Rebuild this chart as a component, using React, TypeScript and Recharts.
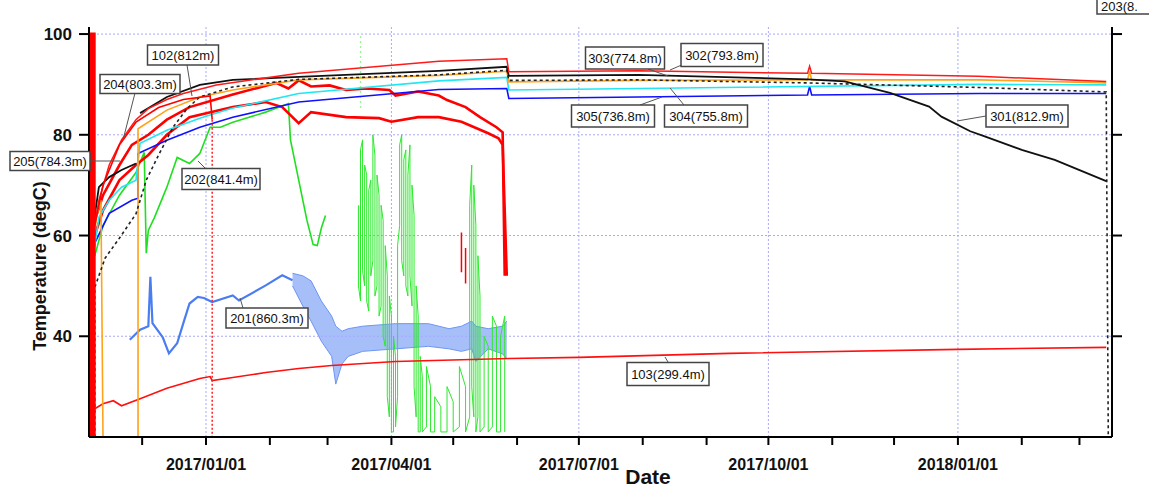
import React from "react";
import { ComposedChart, Line, Area, XAxis, YAxis, ReferenceLine } from "recharts";

// day offsets are counted from 2017-01-01
const ORIGIN = Date.UTC(2017, 0, 1);
const dayOf = (d: string) => (Date.parse(d + "T00:00:00Z") - ORIGIN) / 86400000;

type Row = [string, number | null];
type BandRow = [string, number, number];

const X_MIN = -56.8;
const X_MAX = 439.8;
const Y_MIN = 20;
const Y_MAX = 101.4;

const monthTicks = [
  "2016-12-01", "2017-01-01", "2017-02-01", "2017-03-01", "2017-04-01", "2017-05-01",
  "2017-06-01", "2017-07-01", "2017-08-01", "2017-09-01", "2017-10-01", "2017-11-01",
  "2017-12-01", "2018-01-01", "2018-02-01", "2018-03-01",
];
const quarterTicks = ["2017-01-01", "2017-04-01", "2017-07-01", "2017-10-01", "2018-01-01"];
const tempTicks = [40, 60, 80, 100];

// 302(793.8m) red, top
const red302: Row[] = [
  ["2016-11-07", 60], ["2016-11-10", 67], ["2016-11-15", 74], ["2016-11-21", 79],
  ["2016-11-28", 83], ["2016-12-04", 85.2], ["2016-12-13", 87], ["2016-12-21", 88.2],
  ["2017-01-06", 89.9], ["2017-02-15", 92.2], ["2017-04-24", 94.6], ["2017-05-27", 95.1],
  ["2017-05-28", 92.5], ["2017-07-30", 92.7], ["2017-10-20", 92.2], ["2017-10-21", 93.6],
  ["2017-10-22", 92.2], ["2018-01-11", 91.6], ["2018-03-14", 90.6],
];

// 301(812.9m) black
const black301: Row[] = [
  ["2016-11-08", 64], ["2016-11-10", 69.6], ["2016-11-15", 71.6], ["2016-11-21", 73],
  ["2016-11-28", 74.3], ["2016-11-29", null], ["2016-11-30", 84.3], ["2016-12-13", 87.5],
  ["2016-12-29", 89.9], ["2017-01-14", 90.9], ["2017-02-15", 91.5], ["2017-04-24", 92.7],
  ["2017-05-27", 93.5], ["2017-05-28", 91.7], ["2017-07-30", 91.9], ["2017-10-20", 91.0],
  ["2017-11-07", 90.6], ["2017-11-29", 88.3], ["2017-12-18", 85.6], ["2017-12-24", 83.6],
  ["2018-01-07", 80.7], ["2018-01-14", 79.7], ["2018-02-01", 77.0], ["2018-02-17", 75.0],
  ["2018-03-14", 70.8],
];

// orange
const orange: Row[] = [
  ["2016-11-07", 58], ["2016-11-09", 64], ["2016-11-11", 67], ["2016-11-12", 20],
  ["2016-11-20", null], ["2016-11-29", 20], ["2016-11-29", 81.2], ["2016-12-13", 84.9],
  ["2016-12-29", 87.5], ["2017-01-14", 88.9], ["2017-02-15", 90.9], ["2017-04-24", 91.8],
  ["2017-05-27", 92.6], ["2017-05-28", 90.5], ["2017-07-30", 90.8], ["2017-10-20", 90.9],
  ["2017-10-21", 92.6], ["2017-10-22", 90.9], ["2018-01-11", 90.9], ["2018-03-14", 90.3],
];

// black dashed
const blackDash: Row[] = [
  ["2016-11-08", 20], ["2016-11-08", 49.7], ["2016-11-13", 55.5], ["2016-11-20", 59.5],
  ["2016-11-28", 64.3], ["2016-12-03", 71], ["2016-12-09", 76], ["2016-12-16", 81.5],
  ["2016-12-23", 85.3], ["2016-12-29", 87.5], ["2017-01-14", 89.5], ["2017-02-15", 91.0],
  ["2017-04-24", 91.9], ["2017-05-27", 92.8], ["2017-05-28", 90.8], ["2017-07-30", 90.9],
  ["2017-10-20", 90.3], ["2018-01-11", 89.4], ["2018-03-14", 88.5], ["2018-03-15", 20],
];

// 304(755.8m) cyan
const cyan304: Row[] = [
  ["2016-11-08", 58], ["2016-11-10", 63.6], ["2016-11-15", 67], ["2016-11-21", 69.6],
  ["2016-11-28", 71], ["2016-11-30", 78.3], ["2016-12-13", 80.9], ["2016-12-29", 83.3],
  ["2017-01-14", 85.3], ["2017-02-15", 88.2], ["2017-04-24", 90.7], ["2017-05-27", 91.4],
  ["2017-05-28", 88.9], ["2017-07-30", 89.2], ["2018-01-11", 90.0], ["2018-03-14", 89.9],
];

// 305(736.8m) blue
const blue305: Row[] = [
  ["2016-11-07", 55], ["2016-11-08", 58.5], ["2016-11-15", 64.4], ["2016-11-26", 67],
  ["2016-11-29", 67.4], ["2016-11-29", 76.3], ["2016-12-13", 78.9], ["2016-12-29", 81.5],
  ["2017-01-14", 83.5], ["2017-02-15", 86.5], ["2017-04-24", 89.0], ["2017-05-27", 89.2],
  ["2017-05-28", 87.2], ["2017-07-30", 87.5], ["2017-10-20", 87.9], ["2017-10-21", 89.6],
  ["2017-10-22", 87.9], ["2018-01-11", 88.2], ["2018-03-14", 88.2],
];

// 102(812m) red, stops early January
const red102: Row[] = [
  ["2016-11-08", 62], ["2016-11-12", 70], ["2016-11-20", 78], ["2016-11-28", 82.5],
  ["2016-12-09", 85.4], ["2016-12-21", 87], ["2017-01-03", 87.7], ["2017-01-04", 83],
];
const red102Tail: Row[] = [["2017-01-04", 83], ["2017-01-04", 20]];

// 204 / 205 noisy reds
const red204: Row[] = [
  ["2016-11-08", 63], ["2016-11-12", 68], ["2016-11-20", 74], ["2016-11-26", 78],
  ["2016-12-04", 80], ["2016-12-13", 83], ["2016-12-24", 85.5], ["2017-01-14", 88],
  ["2017-02-04", 90.3], ["2017-02-10", 89.2], ["2017-02-15", 90.8], ["2017-02-21", 89.6],
  ["2017-03-02", 89.8], ["2017-03-10", 88.9], ["2017-03-20", 89.2], ["2017-03-31", 88.9],
  ["2017-04-03", 87.8], ["2017-04-14", 88.6], ["2017-04-24", 87.8], ["2017-04-28", 86.9],
  ["2017-05-07", 85.5], ["2017-05-14", 83.5], ["2017-05-22", 81.5], ["2017-05-25", 80.5],
  ["2017-05-26", 52],
];
const red205: Row[] = [
  ["2016-11-08", 60], ["2016-11-12", 65], ["2016-11-20", 71], ["2016-11-28", 74],
  ["2016-12-04", 76], ["2016-12-13", 80], ["2016-12-24", 83.5], ["2017-01-14", 85.5],
  ["2017-01-30", 86.5], ["2017-02-07", 85.5], ["2017-02-15", 82.3], ["2017-02-21", 84.5],
  ["2017-03-10", 83.5], ["2017-03-26", 83.3], ["2017-04-01", 82.6], ["2017-04-14", 83.5],
  ["2017-04-24", 83.5], ["2017-05-05", 82.6], ["2017-05-18", 80.3], ["2017-05-23", 79.3],
  ["2017-05-25", 78], ["2017-05-27", 52],
];
const redBits: Row[] = [
  ["2017-05-05", 60.6], ["2017-05-05", 52.7], ["2017-05-06", null],
  ["2017-05-07", 57.5], ["2017-05-07", 50.5],
];
const redBar: Row[] = [["2016-11-07", 20], ["2016-11-07", 100.3]];

// 202(841.4m) green
const green202: Row[] = [
  ["2016-11-08", 56], ["2016-11-12", 62], ["2016-11-20", 68], ["2016-11-28", 72.5],
  ["2016-12-02", 76.5], ["2016-12-03", 56.5], ["2016-12-04", 61], ["2016-12-07", 63.6],
  ["2016-12-13", 69.6], ["2016-12-18", 75.5], ["2016-12-24", 74.3], ["2016-12-29", 76.3],
  ["2017-01-03", 81.5], ["2017-01-08", 81.5], ["2017-01-14", 82.5], ["2017-01-30", 84.5],
  ["2017-02-10", 86.2], ["2017-02-11", 79], ["2017-02-15", 71], ["2017-02-19", 63],
  ["2017-02-22", 58.2], ["2017-02-24", 58], ["2017-02-26", 61.5], ["2017-02-28", 64],
];
// 202 scattered readings, drawn as columns
const greenScatter: Row[] = [
  ["2017-03-16", 66], ["2017-03-16", 50], ["2017-03-17", 47], ["2017-03-17", 77],
  ["2017-03-18", 79], ["2017-03-18", 53], ["2017-03-19", 50], ["2017-03-19", 74],
  ["2017-03-20", 72], ["2017-03-20", 47], ["2017-03-21", 45], ["2017-03-21", 69],
  ["2017-03-22", 71], ["2017-03-22", 52], ["2017-03-23", 55], ["2017-03-23", 80],
  ["2017-03-24", 76], ["2017-03-24", 48], ["2017-03-25", 50], ["2017-03-25", 72],
  ["2017-03-26", 68], ["2017-03-26", 44], ["2017-03-27", 46], ["2017-03-27", 66],
  ["2017-03-28", 63], ["2017-03-28", 40], ["2017-03-29", 38], ["2017-03-29", 58],
  ["2017-03-30", 52], ["2017-03-30", 28], ["2017-03-31", 24], ["2017-03-31", 48],
  ["2017-04-01", 44], ["2017-04-01", 21], ["2017-04-02", 21], ["2017-04-02", 40],
  ["2017-04-03", 36], ["2017-04-03", 22], ["2017-04-04", 28], ["2017-04-04", 58],
  ["2017-04-05", 62], ["2017-04-05", 78], ["2017-04-06", 80], ["2017-04-06", 55],
  ["2017-04-07", 52], ["2017-04-07", 75], ["2017-04-08", 77], ["2017-04-08", 50],
  ["2017-04-09", 48], ["2017-04-09", 72], ["2017-04-10", 78], ["2017-04-10", 52],
  ["2017-04-11", 46], ["2017-04-11", 70], ["2017-04-12", 64], ["2017-04-12", 30],
  ["2017-04-13", 24], ["2017-04-13", 50], ["2017-04-14", 44], ["2017-04-14", 21],
  ["2017-04-15", 21], ["2017-04-15", 36], ["2017-04-16", 32], ["2017-04-16", 21],
  ["2017-04-18", 22], ["2017-04-18", 34], ["2017-04-20", 30], ["2017-04-20", 21],
  ["2017-04-22", 21], ["2017-04-22", 28], ["2017-04-25", 26], ["2017-04-25", 21],
  ["2017-04-28", 21], ["2017-04-28", 30], ["2017-05-01", 27], ["2017-05-01", 21],
  ["2017-05-04", 22], ["2017-05-04", 34], ["2017-05-07", 30], ["2017-05-07", 21],
  ["2017-05-09", 24], ["2017-05-09", 66], ["2017-05-10", 74], ["2017-05-10", 30],
  ["2017-05-11", 24], ["2017-05-11", 70], ["2017-05-12", 62], ["2017-05-12", 21],
  ["2017-05-13", 24], ["2017-05-13", 56], ["2017-05-14", 48], ["2017-05-14", 21],
  ["2017-05-16", 22], ["2017-05-16", 40], ["2017-05-18", 38], ["2017-05-18", 21],
  ["2017-05-20", 22], ["2017-05-20", 44], ["2017-05-22", 42], ["2017-05-22", 21],
  ["2017-05-24", 21], ["2017-05-24", 40], ["2017-05-26", 44], ["2017-05-26", 21],
];
const greenDots: Row[] = [["2017-03-17", 99.5], ["2017-03-17", 85]];

// 201(860.3m) cornflower blue
const blue201: Row[] = [
  ["2016-11-25", 39.3], ["2016-11-30", 41.3], ["2016-12-04", 42], ["2016-12-05", 51.8],
  ["2016-12-06", 42.6], ["2016-12-11", 39.8], ["2016-12-14", 36.6], ["2016-12-18", 38.6],
  ["2016-12-21", 42.6], ["2016-12-24", 46.5], ["2016-12-28", 47.8], ["2016-12-31", 47.6],
  ["2017-01-04", 46.8], ["2017-01-14", 48.1], ["2017-01-17", 47.1], ["2017-01-30", 50.1],
  ["2017-02-07", 52.1], ["2017-02-12", 51.1],
];
const blue201Band: BandRow[] = [
  ["2017-02-12", 50, 52.5], ["2017-02-17", 46, 52], ["2017-02-21", 43, 51],
  ["2017-02-26", 39, 47], ["2017-03-03", 36, 44], ["2017-03-05", 30.5, 42],
  ["2017-03-08", 34.5, 41], ["2017-03-11", 36, 41.5], ["2017-03-18", 37, 42],
  ["2017-04-03", 37.5, 42.5], ["2017-04-19", 38, 42.5], ["2017-04-29", 37.5, 41.5],
  ["2017-05-05", 37, 42], ["2017-05-10", 37.5, 43], ["2017-05-12", 35, 42],
  ["2017-05-18", 37.5, 41.5], ["2017-05-25", 36.5, 42], ["2017-05-27", 35.5, 43],
];

// 103(299.4m) red, shallow
const red103: Row[] = [
  ["2016-11-08", 25.6], ["2016-11-12", 26.6], ["2016-11-17", 27.2], ["2016-11-21", 26.2],
  ["2016-11-30", 27.6], ["2016-12-13", 29.7], ["2016-12-29", 31.6], ["2017-01-03", 32.0],
  ["2017-01-04", 31.2], ["2017-01-14", 31.8], ["2017-01-30", 32.8], ["2017-02-15", 33.6],
  ["2017-03-03", 34.2], ["2017-04-03", 35.0], ["2017-05-28", 35.6], ["2017-07-01", 35.8],
  ["2017-09-12", 36.6], ["2018-01-01", 37.4], ["2018-03-14", 37.8],
];

const pts = (rows: Row[]) => rows.map(([d, v]) => ({ x: dayOf(d), y: v }));
const band = (rows: BandRow[]) => rows.map(([d, lo, hi]) => ({ x: dayOf(d), range: [lo, hi] }));

const series = [
  { id: "green-scatter", rows: greenScatter, color: "#2ee82e", width: 1, dash: undefined },
  { id: "green-dots", rows: greenDots, color: "#2ee82e", width: 1.3, dash: "1 4" },
  { id: "201", rows: blue201, color: "#4b7df2", width: 2.2, dash: undefined },
  { id: "103", rows: red103, color: "#ff1010", width: 1.6, dash: undefined },
  { id: "202", rows: green202, color: "#1fe01f", width: 1.6, dash: undefined },
  { id: "205", rows: red205, color: "#ff0000", width: 2.6, dash: undefined },
  { id: "204", rows: red204, color: "#ff0000", width: 2.6, dash: undefined },
  { id: "bits", rows: redBits, color: "#ff0000", width: 1.5, dash: undefined },
  { id: "305", rows: blue305, color: "#1010ff", width: 1.6, dash: undefined },
  { id: "304", rows: cyan304, color: "#22e6f2", width: 1.6, dash: undefined },
  { id: "orange", rows: orange, color: "#ffa31a", width: 1.6, dash: undefined },
  { id: "dash", rows: blackDash, color: "#222", width: 1.6, dash: "3 3" },
  { id: "301", rows: black301, color: "#111", width: 1.8, dash: undefined },
  { id: "302", rows: red302, color: "#ff1a1a", width: 1.5, dash: undefined },
  { id: "102", rows: red102, color: "#ff0000", width: 1.6, dash: undefined },
  { id: "102-tail", rows: red102Tail, color: "#ff2020", width: 1.5, dash: "2 2" },
  { id: "bar", rows: redBar, color: "#ff0000", width: 6, dash: undefined },
];

const labels = [
  { text: "102(812m)", cx: 183, cy: 55, w: 71, h: 20, l: [187, 65, 192, 96] },
  { text: "204(803.3m)", cx: 140, cy: 84, w: 80, h: 19, l: [135, 93, 123, 140] },
  { text: "205(784.3m)", cx: 50, cy: 161, w: 80, h: 19, l: [90, 161, 120, 161] },
  { text: "202(841.4m)", cx: 221, cy: 179, w: 78, h: 21, l: [205, 168, 198, 161] },
  { text: "201(860.3m)", cx: 267, cy: 318, w: 82, h: 20, l: [243, 308, 240, 298] },
  { text: "103(299.4m)", cx: 668, cy: 374, w: 82, h: 23, l: [668, 362, 665, 357] },
  { text: "303(774.8m)", cx: 625, cy: 58, w: 79, h: 22, l: [648, 69, 668, 76] },
  { text: "302(793.8m)", cx: 722, cy: 55, w: 82, h: 23, l: [684, 64, 670, 70] },
  { text: "305(736.8m)", cx: 613, cy: 116, w: 83, h: 22, l: [640, 105, 662, 97] },
  { text: "304(755.8m)", cx: 706, cy: 116, w: 83, h: 22, l: [684, 105, 670, 88] },
  { text: "301(812.9m)", cx: 1027, cy: 116, w: 82, h: 22, l: [986, 116, 957, 121] },
];

const fmtTick = (v: number) => {
  const hit = quarterTicks.find((q) => Math.abs(dayOf(q) - v) < 0.01);
  return hit ? hit.replace(/-/g, "/") : "";
};

const FONT = "'Liberation Sans', Arial, sans-serif";
const TICK_FONT = "'Liberation Sans Narrow', 'Liberation Sans', Arial, sans-serif";
const axisStroke = { stroke: "#000", strokeWidth: 2 };

export default function App() {
  const tickDays = monthTicks.map(dayOf);
  return (
    <div
      style={{
        position: "absolute",
        left: 0,
        top: 0,
        width: 1149,
        height: 492,
        background: "#fff",
        fontFamily: FONT,
      }}
    >
      <ComposedChart width={1149} height={492} margin={{ top: 27, right: 0, bottom: 0, left: 0 }}>
        <XAxis
          xAxisId="b"
          type="number"
          dataKey="x"
          domain={[X_MIN, X_MAX]}
          allowDataOverflow
          ticks={tickDays}
          interval={0}
          tickFormatter={fmtTick}
          height={55}
          tickSize={8}
          tickMargin={14}
          axisLine={axisStroke}
          tickLine={axisStroke}
          tick={{ fill: "#111", fontSize: 16, fontWeight: 700, fontFamily: TICK_FONT }}
        />
        <XAxis
          xAxisId="t"
          orientation="top"
          type="number"
          dataKey="x"
          domain={[X_MIN, X_MAX]}
          allowDataOverflow
          ticks={tickDays}
          interval={0}
          tickFormatter={() => ""}
          height={0}
          tickSize={7}
          axisLine={axisStroke}
          tickLine={axisStroke}
        />
        <YAxis
          yAxisId="l"
          type="number"
          domain={[Y_MIN, Y_MAX]}
          allowDataOverflow
          ticks={tempTicks}
          interval={0}
          width={89}
          tickSize={10}
          tickMargin={7}
          axisLine={axisStroke}
          tickLine={axisStroke}
          tick={{ fill: "#111", fontSize: 17, fontWeight: 700, fontFamily: TICK_FONT }}
        />
        <YAxis
          yAxisId="r"
          orientation="right"
          type="number"
          domain={[Y_MIN, Y_MAX]}
          allowDataOverflow
          ticks={tempTicks}
          interval={0}
          width={37}
          tickSize={10}
          tickFormatter={() => ""}
          axisLine={axisStroke}
          tickLine={axisStroke}
        />

        {quarterTicks.map((q) => (
          <ReferenceLine
            key={q}
            xAxisId="b"
            yAxisId="l"
            x={dayOf(q)}
            stroke="#a8a8ff"
            strokeDasharray="2 2"
          />
        ))}
        {tempTicks.map((t) => (
          <ReferenceLine
            key={t}
            xAxisId="b"
            yAxisId="l"
            y={t}
            stroke="#a8a8ff"
            strokeDasharray="2 2"
          />
        ))}

        <Area
          xAxisId="b"
          yAxisId="l"
          data={band(blue201Band)}
          dataKey="range"
          type="linear"
          stroke="#6e95f4"
          strokeWidth={1}
          fill="#5d8af3"
          fillOpacity={0.55}
          isAnimationActive={false}
        />

        {series.map((s) => (
          <Line
            key={s.id}
            xAxisId="b"
            yAxisId="l"
            data={pts(s.rows)}
            dataKey="y"
            type="linear"
            stroke={s.color}
            strokeWidth={s.width}
            strokeDasharray={s.dash}
            dot={false}
            activeDot={false}
            connectNulls={false}
            isAnimationActive={false}
          />
        ))}
      </ComposedChart>

      <svg
        width={1149}
        height={492}
        style={{ position: "absolute", left: 0, top: 0, pointerEvents: "none" }}
      >
        <text
          x={40}
          y={266}
          transform="rotate(-90 40 266)"
          textAnchor="middle"
          dominantBaseline="central"
          fontSize={18}
          fontWeight={700}
          fontFamily={TICK_FONT}
          fill="#111"
        >
          Temperature (degC)
        </text>
        <text
          x={648}
          y={476}
          textAnchor="middle"
          dominantBaseline="central"
          fontSize={21}
          fontWeight={700}
          fontFamily={TICK_FONT}
          fill="#111"
        >
          Date
        </text>
        {labels.map((lb) => (
          <g key={lb.text}>
            <line x1={lb.l[0]} y1={lb.l[1]} x2={lb.l[2]} y2={lb.l[3]} stroke="#555" strokeWidth={1} />
            <rect
              x={lb.cx - lb.w / 2}
              y={lb.cy - lb.h / 2}
              width={lb.w}
              height={lb.h}
              fill="#fff"
              stroke="#444"
              strokeWidth={1.5}
            />
            <text
              x={lb.cx}
              y={lb.cy}
              textAnchor="middle"
              dominantBaseline="central"
              fontSize={13}
              fontFamily={FONT}
              fill="#111"
            >
              {lb.text}
            </text>
          </g>
        ))}
        <rect x={1097} y={-4} width={70} height={18} fill="#fff" stroke="#444" strokeWidth={1.5} />
        <text x={1101} y={6} dominantBaseline="central" fontSize={13} fontFamily={FONT} fill="#111">
          203(8.
        </text>
      </svg>
    </div>
  );
}
